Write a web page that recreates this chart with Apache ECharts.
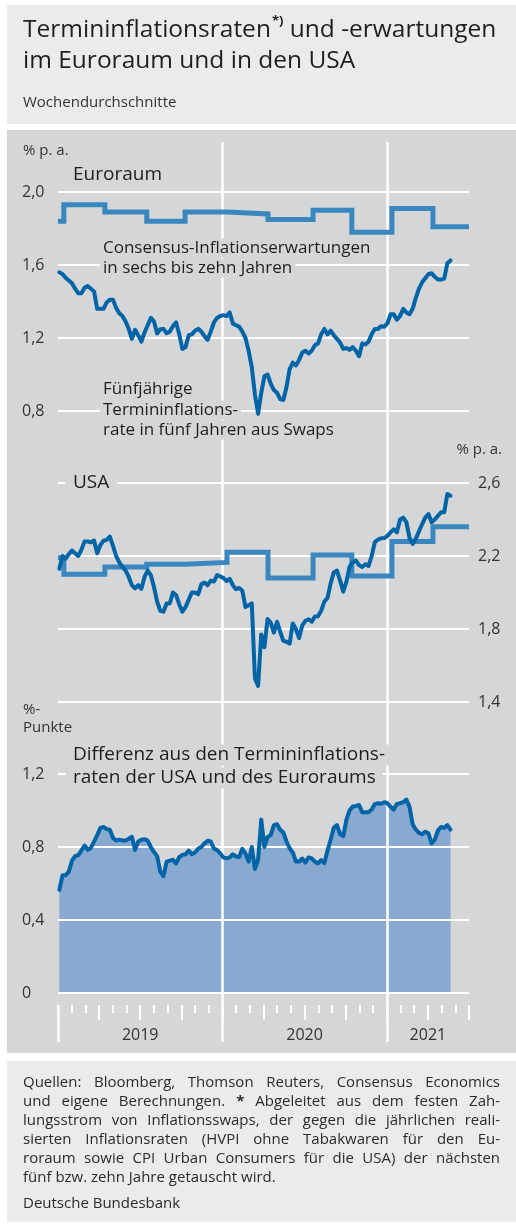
<!DOCTYPE html>
<html>
<head>
<meta charset="utf-8">
<title>Termininflationsraten und -erwartungen</title>
<script src="https://cdn.jsdelivr.net/npm/echarts@6/dist/echarts.min.js"></script>
<style>
  html, body { margin: 0; padding: 0; background: #fff; }
  body { width: 516px; height: 1226px; position: relative; overflow: hidden; font-family: 'Open Sans', sans-serif; }
  .box { position: absolute; left: 7px; right: 0; }
  #head { top: 5px; height: 119px; background: #ebebed; }
  #panel { top: 130px; height: 923px; background: #d5d6d8; }
  #foot { top: 1061px; height: 161px; background: #ebebed; }
  #chart { position: absolute; left: 0; top: 0; width: 516px; height: 1226px; }
  #notes { position: absolute; left: 23px; top: 1072px; width: 477px; font-size: 15px; line-height: 19px; color: #2b2b2b; }
  #notes div { white-space: nowrap; text-align: justify; text-align-last: justify; }
  #notes div.last { text-align-last: left; }
  #notes div.src { margin-top: 7px; }
</style>
</head>
<body>
<div class="box" id="head"></div>
<div class="box" id="panel"></div>
<div class="box" id="foot"></div>
<div id="chart"></div>
<div id="notes">
  <div>Quellen: Bloomberg, Thomson Reuters, Consensus Economics</div>
  <div>und eigene Berechnungen. <b>*</b> Abgeleitet aus dem festen Zah-</div>
  <div>lungsstrom von Inflationsswaps, der gegen die jährlichen reali-</div>
  <div>sierten Inflationsraten (HVPI ohne Tabakwaren für den Eu-</div>
  <div>roraum sowie CPI Urban Consumers für die USA) der nächsten</div>
  <div class="last">fünf bzw. zehn Jahre getauscht wird.</div>
  <div class="last src">Deutsche Bundesbank</div>
</div>
<script>
// weekly averages, first week ending 2019-01-04
var firstWeek = [2019, 0, 4];

var euroRate = [
  1.56, 1.55, 1.53, 1.515, 1.50, 1.47, 1.445, 1.445, 1.475, 1.485,
  1.47, 1.455, 1.36, 1.36, 1.36, 1.395, 1.41, 1.41, 1.365, 1.335,
  1.32, 1.29, 1.25, 1.195, 1.245, 1.215, 1.18, 1.23, 1.27, 1.31,
  1.29, 1.225, 1.248, 1.25, 1.226, 1.235, 1.265, 1.285, 1.22, 1.14,
  1.15, 1.215, 1.22, 1.24, 1.25, 1.235, 1.21, 1.19, 1.235, 1.285,
  1.31, 1.32, 1.325, 1.32, 1.34, 1.28, 1.27, 1.262, 1.235, 1.20,
  1.13, 1.04, 0.89, 0.785, 0.90, 0.99, 1.0, 0.95, 0.915, 0.90,
  0.865, 0.86, 0.93, 1.03, 1.065, 1.05, 1.08, 1.12, 1.13, 1.115,
  1.13, 1.16, 1.17, 1.22, 1.25, 1.22, 1.24, 1.215, 1.195, 1.175,
  1.14, 1.145, 1.135, 1.15, 1.13, 1.10, 1.17, 1.165, 1.18, 1.22,
  1.25, 1.25, 1.265, 1.262, 1.28, 1.33, 1.33, 1.30, 1.32, 1.36,
  1.34, 1.33, 1.36, 1.42, 1.47, 1.505, 1.527, 1.55, 1.555, 1.535,
  1.52, 1.52, 1.525, 1.61, 1.625
];

var usRate = [
  2.13, 2.20, 2.185, 2.21, 2.23, 2.215, 2.20, 2.235, 2.28, 2.28,
  2.275, 2.285, 2.215, 2.26, 2.284, 2.288, 2.306, 2.255, 2.20, 2.165,
  2.14, 2.12, 2.085, 2.04, 2.023, 2.04, 2.02, 2.085, 2.12, 2.095,
  2.03, 1.95, 1.90, 1.895, 1.94, 1.94, 2.0, 1.986, 1.935, 1.895,
  1.92, 1.96, 2.0, 2.0, 1.99, 2.045, 2.055, 2.04, 2.065, 2.06,
  2.095, 2.088, 2.08, 2.063, 2.075, 2.04, 2.018, 2.025, 2.01, 1.92,
  1.93, 1.94, 1.53, 1.488, 1.77, 1.70, 1.855, 1.835, 1.78, 1.84,
  1.785, 1.735, 1.73, 1.72, 1.83, 1.80, 1.75, 1.82, 1.845, 1.853,
  1.84, 1.868, 1.87, 1.90, 1.95, 1.97, 2.05, 2.11, 2.12, 2.065,
  2.005, 2.06, 2.14, 2.165, 2.175, 2.15, 2.14, 2.155, 2.145, 2.20,
  2.275, 2.29, 2.297, 2.298, 2.31, 2.33, 2.346, 2.33, 2.40, 2.41,
  2.385, 2.30, 2.266, 2.295, 2.335, 2.375, 2.41, 2.43, 2.385, 2.40,
  2.42, 2.44, 2.44, 2.54, 2.53
];

var spread = [
  0.565, 0.645, 0.645, 0.665, 0.725, 0.75, 0.756, 0.782, 0.808, 0.785,
  0.795, 0.83, 0.865, 0.905, 0.91, 0.898, 0.895, 0.85, 0.835, 0.84,
  0.835, 0.835, 0.845, 0.856, 0.784, 0.83, 0.84, 0.843, 0.835, 0.80,
  0.772, 0.75, 0.665, 0.64, 0.72, 0.725, 0.73, 0.71, 0.745, 0.757,
  0.76, 0.78, 0.76, 0.77, 0.79, 0.80, 0.82, 0.834, 0.83, 0.792,
  0.783, 0.765, 0.743, 0.738, 0.743, 0.76, 0.748, 0.745, 0.79, 0.765,
  0.72, 0.80, 0.68, 0.73, 0.95, 0.80, 0.855, 0.865, 0.92, 0.925,
  0.895, 0.88, 0.83, 0.793, 0.77, 0.72, 0.72, 0.737, 0.715, 0.743,
  0.738, 0.72, 0.71, 0.728, 0.712, 0.78, 0.84, 0.905, 0.92, 0.87,
  0.86, 0.95, 1.00, 1.022, 1.025, 1.03, 0.99, 0.99, 0.99, 1.005,
  1.035, 1.04, 1.037, 1.045, 1.04, 1.02, 1.005, 1.036, 1.04, 1.045,
  1.06, 1.02, 0.925, 0.895, 0.878, 0.87, 0.884, 0.875, 0.82, 0.84,
  0.89, 0.91, 0.905, 0.92, 0.895
];

// Consensus survey: value holds from each date until the next one
var surveyDates = ['2019-01-01', '2019-01-14', '2019-04-15', '2019-07-17', '2019-10-10', '2020-01-11',
  '2020-04-11', '2020-07-20', '2020-10-14', '2021-01-11', '2021-04-12', '2021-07-01'];
var consensusEuro = [1.84, 1.93, 1.89, 1.84, 1.89, 1.88, 1.85, 1.90, 1.78, 1.91, 1.81, 1.81];
var consensusUS = [2.19, 2.10, 2.14, 2.155, 2.165, 2.22, 2.08, 2.205, 2.09, 2.28, 2.36, 2.36];

var months = ['2019-01', '2019-02', '2019-03', '2019-04', '2019-05', '2019-06', '2019-07', '2019-08',
  '2019-09', '2019-10', '2019-11', '2019-12', '2020-01', '2020-02', '2020-03', '2020-04', '2020-05',
  '2020-06', '2020-07', '2020-08', '2020-09', '2020-10', '2020-11', '2020-12', '2021-01', '2021-02',
  '2021-03', '2021-04', '2021-05', '2021-06', '2021-07'];
var yearLabels = { '2019-07': '2019', '2020-07': '2020', '2021-04': '2021' };
var yearLines = ['2020-01-01', '2021-01-01'];
var usTicks = [1.4, 1.8, 2.2, 2.6];

var axisStart = '2019-01-01';
var axisEnd = '2021-07-01';

var darkBlue = '#0064a7';
var stepBlue = '#3a87c0';
var areaBlue = '#88a9d0';
var panelGrey = '#d5d6d8';
var ink = '#1e1e1e';

function weekly(values) {
  return values.map(function (v, i) {
    return [new Date(firstWeek[0], firstWeek[1], firstWeek[2] + 7 * i).getTime(), v];
  });
}
function steps(values) {
  return values.map(function (v, i) { return [surveyDates[i], v]; });
}
function comma(v) {
  return v === 0 ? '0' : v.toFixed(1).replace('.', ',');
}

function timeAxis(gi) {
  return { type: 'time', gridIndex: gi, min: axisStart, max: axisEnd, show: false };
}
function tickAxis(len, every, withLabels) {
  return {
    type: 'category', gridIndex: 2, position: 'bottom', offset: 12, data: months,
    boundaryGap: false, z: 1,
    axisLine: { show: false },
    axisTick: {
      show: true, length: len,
      interval: function (i) { return i % every === 0; },
      lineStyle: { color: '#fff', width: len > 20 ? 2.5 : 2 }
    },
    axisLabel: withLabels ? {
      show: true, margin: 22, fontSize: 16, color: '#333',
      interval: function (i, v) { return !!yearLabels[v]; },
      formatter: function (v) { return yearLabels[v] || ''; }
    } : { show: false },
    splitLine: { show: false }
  };
}
function valueAxis(gi, min, max, interval, pos, extra) {
  var ax = {
    type: 'value', gridIndex: gi, min: min, max: max, interval: interval, position: pos, z: 1,
    axisLine: { show: false }, axisTick: { show: false },
    splitLine: { show: true, lineStyle: { color: '#fff', width: 2 } },
    axisLabel: { fontSize: 16, color: '#333', margin: 36, align: 'left', formatter: comma }
  };
  return Object.assign(ax, extra || {});
}
function note(text, x, y, size, boxed, extra) {
  var pad = boxed || 0;
  var el = {
    type: 'text', x: x - pad, y: y, z: 2, silent: true,
    style: Object.assign({
      text: text, fill: ink, fontSize: size, fontFamily: 'Open Sans',
      verticalAlign: 'middle', align: 'left'
    }, extra || {})
  };
  if (boxed) {
    el.style.backgroundColor = panelGrey;
    el.style.padding = [1, pad, 1, pad];
  }
  return el;
}

var chart = echarts.init(document.getElementById('chart'), null, { renderer: 'canvas' });
chart.setOption({
  animation: false,
  textStyle: { fontFamily: 'Open Sans' },
  grid: [
    { left: 58, right: 47, top: 192, height: 219 },
    { left: 58, right: 47, top: 483, height: 219 },
    { left: 58, right: 47, top: 774, height: 219 },
    { left: 58, right: 47, top: 142, height: 863 }
  ],
  xAxis: [
    timeAxis(0), timeAxis(1), timeAxis(2), timeAxis(3),
    tickAxis(8, 1, false),
    tickAxis(15, 3, true),
    tickAxis(37, 12, false)
  ],
  yAxis: [
    valueAxis(0, 0.8, 2.0, 0.4, 'left'),
    valueAxis(1, 1.4, 2.6, 0.2, 'right', {
      splitLine: { show: true, lineStyle: { color: ['#fff', 'rgba(0,0,0,0)'], width: 2 } },
      axisLabel: {
        fontSize: 16, color: '#333', margin: 9,
        formatter: function (v) {
          return usTicks.some(function (t) { return Math.abs(t - v) < 1e-6; }) ? comma(v) : '';
        }
      }
    }),
    valueAxis(2, 0, 1.2, 0.4, 'left'),
    { type: 'value', gridIndex: 3, min: 0, max: 1, show: false }
  ],
  graphic: [
    note('{t|Termininflationsraten}{s|*)}{t| und -erwartungen}\n{t|im Euroraum und in den USA}', 23, 46, 24, 0, {
      rich: {
        t: { fontSize: 24.5, fontWeight: 500, lineHeight: 31, fill: ink, fontFamily: 'Open Sans' },
        s: { fontSize: 13, fontWeight: 'bold', lineHeight: 31, verticalAlign: 'top', padding: [0, 0, 10, 1], fill: ink, fontFamily: 'Open Sans' }
      }
    }),
    note('Wochendurchschnitte', 23, 103, 15, 0, { fill: '#333' }),
    note('% p. a.', 23, 151, 15, 0, { fill: '#333' }),
    note('Euroraum', 73, 175, 19, 0, { fontWeight: 500 }),
    note('Consensus-Inflationserwartungen', 103, 248, 17, 3),
    note('in sechs bis zehn Jahren', 103, 268, 17, 3),
    note('Fünfjährige', 103, 389, 17, 3),
    note('Termininflations-', 103, 410, 17, 3),
    note('rate in fünf Jahren aus Swaps', 103, 430, 17, 3),
    note('% p. a.', 502, 450, 15, 0, { fill: '#333', align: 'right' }),
    note('USA', 73, 483, 19, 8, { fontWeight: 500 }),
    note('%-', 23, 710, 15, 0, { fill: '#333' }),
    note('Punkte', 23, 728, 15, 0, { fill: '#333' }),
    note('Differenz aus den Termininflations-', 73, 755, 19, 7, { fontWeight: 500 }),
    note('raten der USA und des Euroraums', 73, 778, 19, 7, { fontWeight: 500 })
  ],
  series: [
    {
      type: 'line', xAxisIndex: 0, yAxisIndex: 0, data: steps(consensusEuro), step: 'end',
      symbol: 'none', z: 3, lineStyle: { color: stepBlue, width: 5, join: 'miter' }
    },
    {
      type: 'line', xAxisIndex: 0, yAxisIndex: 0, data: weekly(euroRate), clip: false,
      symbol: 'none', z: 4, lineStyle: { color: darkBlue, width: 4, join: 'round', cap: 'round' }
    },
    {
      type: 'line', xAxisIndex: 1, yAxisIndex: 1, data: steps(consensusUS), step: 'end',
      symbol: 'none', z: 3, lineStyle: { color: stepBlue, width: 5, join: 'miter' }
    },
    {
      type: 'line', xAxisIndex: 1, yAxisIndex: 1, data: weekly(usRate), clip: false,
      symbol: 'none', z: 4, lineStyle: { color: darkBlue, width: 4, join: 'round', cap: 'round' }
    },
    {
      type: 'line', xAxisIndex: 2, yAxisIndex: 2, data: weekly(spread), silent: true,
      symbol: 'none', z: 0, lineStyle: { width: 0 }, areaStyle: { color: areaBlue, opacity: 1 }
    },
    {
      type: 'line', xAxisIndex: 2, yAxisIndex: 2, data: weekly(spread),
      symbol: 'none', z: 4, lineStyle: { color: darkBlue, width: 4, join: 'round', cap: 'round' }
    },
    {
      type: 'line', xAxisIndex: 3, yAxisIndex: 3, silent: true, z: 1,
      data: yearLines.map(function (d) { return [d, 0]; }),
      symbol: 'none', lineStyle: { width: 0 },
      markLine: {
        silent: true, symbol: 'none', z: 1, label: { show: false },
        lineStyle: { color: '#fff', width: 2.5, type: 'solid' },
        data: yearLines.map(function (d) { return { xAxis: d }; })
      }
    }
  ]
});
</script>
</body>
</html>
